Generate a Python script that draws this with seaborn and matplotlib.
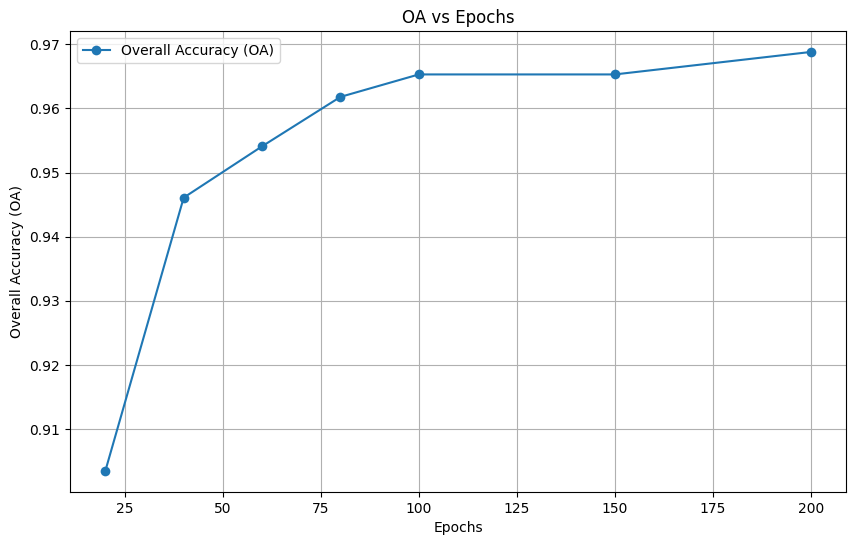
import numpy as np
import pandas as pd
import seaborn as sns
import matplotlib
matplotlib.use("Agg")
import matplotlib.pyplot as plt

# Datos
epochs = [20, 40, 60, 80, 100, 150, 200]
oa = [0.9035, 0.9461, 0.9541, 0.9618, 0.9653, 0.9653, 0.9688]

df = pd.DataFrame({"Epochs": epochs, "OA": oa})

fig = plt.figure(figsize=(8.55, 5.45), dpi=100)
ax = fig.add_axes([0.0819, 0.0972, 0.9076, 0.8459])

sns.lineplot(data=df, x="Epochs", y="OA", marker="o", markersize=7,
             markeredgewidth=0, color="#1f77b4", ax=ax,
             label="Overall Accuracy (OA)")

ax.set_title("OA vs Epochs")
ax.set_xlabel("Epochs")
ax.set_ylabel("Overall Accuracy (OA)")
ax.grid(True)
ax.legend(loc="upper left")

fig.savefig("out.png", dpi=100)
